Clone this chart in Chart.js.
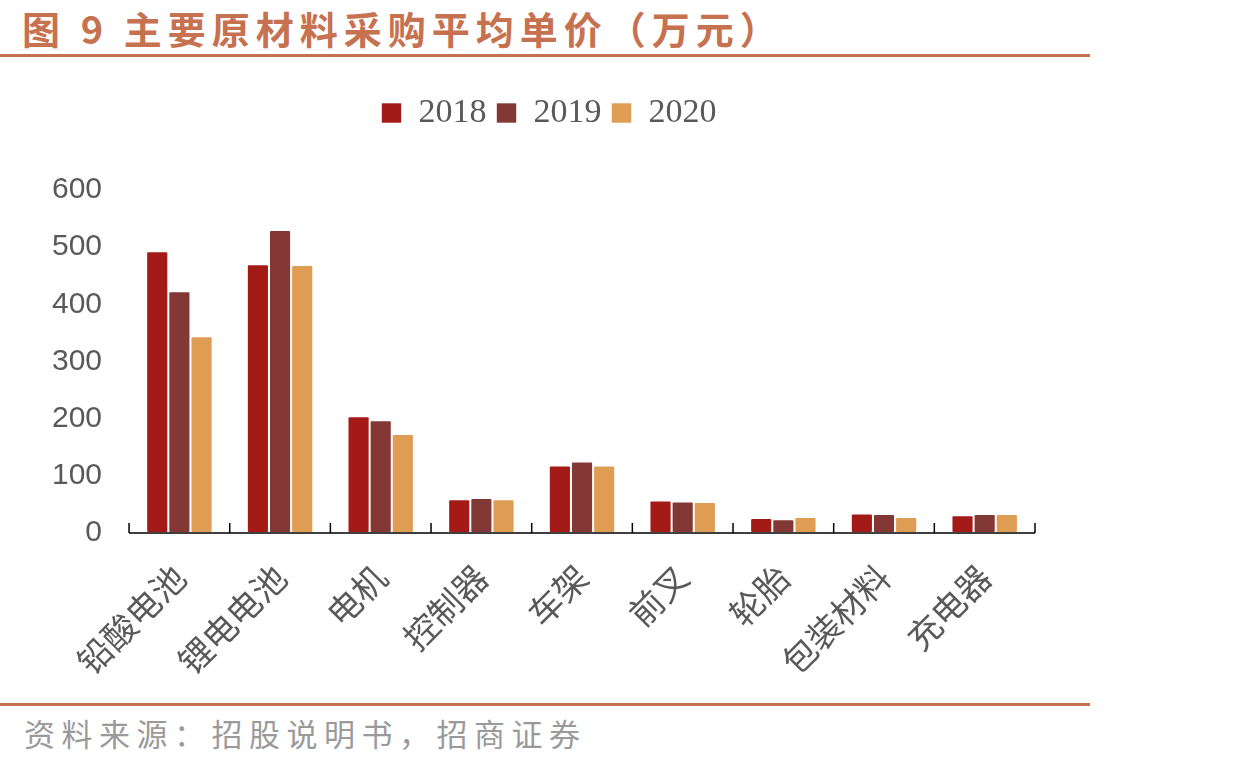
<!DOCTYPE html>
<html>
<head>
<meta charset="utf-8">
<script src="https://cdn.jsdelivr.net/npm/chart.js@4/dist/chart.umd.min.js"></script>
<style>
  html, body { margin: 0; padding: 0; background: #fff; }
  body { width: 1245px; height: 766px; position: relative; overflow: hidden; }
  .title {
    position: absolute; left: 22px; top: 0px;
    font-family: "Noto Sans CJK SC", sans-serif; font-weight: bold;
    font-size: 38px; color: #C6714F; letter-spacing: 6px; white-space: nowrap;
  }
  .rule { position: absolute; left: 0; width: 1090px; height: 3px; background: #C6714F; }
  .source {
    position: absolute; left: 24px; top: 710px;
    font-family: "Noto Sans CJK SC", sans-serif; font-size: 31px; color: #9a9a9a;
    letter-spacing: 6.5px; white-space: nowrap;
  }
  #wrap { position: absolute; left: 0; top: 80px; width: 1090px; height: 626px; }
</style>
</head>
<body>
<div class="title">图 9 主要原材料采购平均单价（万元）</div>
<div class="rule" style="top:54px"></div>
<div id="wrap"><canvas id="chart"></canvas></div>
<div class="rule" style="top:703px"></div>
<div class="source">资料来源：招股说明书，招商证券</div>
<script>
// 数据
const categories = ['铅酸电池', '锂电电池', '电机', '控制器', '车架', '前叉', '轮胎', '包装材料', '充电器'];
const years = ['2018', '2019', '2020'];
const values2018 = [493, 470, 204, 59, 118, 57, 26, 34, 31];
const values2019 = [423, 530, 197, 61, 125, 55, 24, 33, 33];
const values2020 = [344, 469, 173, 59, 118, 54, 28, 28, 33];
const yTicks = [0, 100, 200, 300, 400, 500, 600];
const colors = ['#A31A17', '#843836', '#DF9C53'];

// 图例和绘图区之间留出空隙，图例稍微右移
const legendGap = {
  id: 'legendGap',
  beforeInit(chart) {
    const fit = chart.legend.fit;
    chart.legend.fit = function () {
      fit.bind(chart.legend)();
      this.height += 50;
    };
  },
  afterLayout(chart) {
    chart.legend.left += 19;
    chart.legend.right += 19;
  }
};

// x轴刻度线画在轴线上方
const upTicks = {
  id: 'upTicks',
  afterDraw(chart) {
    const xs = chart.scales.x;
    const ctx = chart.ctx;
    const n = categories.length;
    const y = chart.chartArea.bottom;
    ctx.save();
    ctx.strokeStyle = '#000';
    ctx.lineWidth = 1.5;
    ctx.beginPath();
    ctx.moveTo(xs.left, y);
    ctx.lineTo(xs.right, y);
    for (let i = 0; i <= n; i++) {
      const x = xs.left + i * (xs.width / n);
      ctx.moveTo(x, y);
      ctx.lineTo(x, y - 10);
    }
    ctx.stroke();
    ctx.restore();
  }
};

const allValues = [values2018, values2019, values2020];
const datasets = years.map((yr, i) => ({
  label: yr,
  data: allValues[i],
  backgroundColor: colors[i],
  borderColor: 'rgba(255,255,255,0.6)',
  borderWidth: 1,
  borderRadius: 2,
  borderSkipped: false
}));

new Chart(document.getElementById('chart').getContext('2d'), {
  type: 'bar',
  data: { labels: categories, datasets },
  plugins: [legendGap, upTicks],
  options: {
    responsive: true,
    maintainAspectRatio: false,
    animation: false,
    layout: { padding: { left: 25, right: 55, top: 6, bottom: 0 } },
    datasets: { bar: { categoryPercentage: 0.66, barPercentage: 1 } },
    scales: {
      x: {
        grid: { display: false, drawTicks: false },
        border: { display: false },
        ticks: {
          maxRotation: 45, minRotation: 45, padding: 24,
          color: '#595959',
          font: { family: '"Noto Sans CJK SC", sans-serif', size: 34 }
        }
      },
      y: {
        min: 0, max: 600,
        afterBuildTicks: (axis) => { axis.ticks = yTicks.map(v => ({ value: v })); },
        grid: { display: false, drawTicks: false },
        border: { display: false },
        ticks: {
          padding: 27,
          color: '#595959',
          font: { family: '"Liberation Sans", Arial, sans-serif', size: 30 }
        }
      }
    },
    plugins: {
      legend: {
        position: 'top',
        labels: {
          boxWidth: 20, boxHeight: 20, padding: 10,
          color: '#595959',
          font: { family: '"Liberation Serif", "Times New Roman", serif', size: 34 }
        }
      },
      tooltip: { enabled: false }
    }
  }
});
</script>
</body>
</html>
